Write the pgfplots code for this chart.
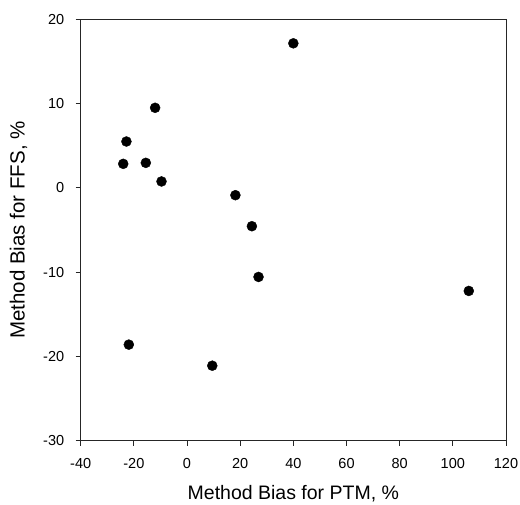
\documentclass[border=0pt]{standalone}
\usepackage{pgfplots}
\pgfplotsset{compat=1.18}
\usepackage{fontspec}
\setmainfont{Liberation Sans}
\begin{document}
\begin{tikzpicture}
\path[use as bounding box] (-80.7pt,-63.3pt) rectangle (439.3pt,440.7pt);
\begin{axis}[
  at={(0,0)}, anchor=south west,
  scale only axis,
  width=425.3pt, height=421.4pt,
  xmin=-40, xmax=120, ymin=-30, ymax=20,
  xtick={-40,-20,...,120}, ytick={-30,-20,...,20},
  tick align=outside,
  xtick pos=bottom, ytick pos=left,
  major tick length=5pt,
  axis line style={line width=0.8pt, black!85},
  tick style={line width=0.8pt, black!85},
  /pgf/number format/assume math mode=true,
  tick label style={font=\fontsize{14.5}{16}\selectfont},
  xticklabel style={yshift=-9pt},
  yticklabel style={xshift=-8pt},
  xlabel style={font=\fontsize{19.5}{22}\selectfont, yshift=-10pt},
  ylabel style={font=\fontsize{20.5}{23}\selectfont, yshift=9pt},
  xlabel={Method Bias for PTM, \%},
  ylabel={Method Bias for FFS, \%},
]
\addplot[only marks, mark=*, mark size=5pt, black] coordinates {
(40.0,17.15) (-12.0,9.5) (-22.8,5.5) (-24.0,2.85) (-15.5,2.97) (-9.6,0.76)
(18.2,-0.87) (24.4,-4.55) (26.9,-10.57) (106.0,-12.23) (-21.9,-18.6) (9.5,-21.1)
};
\end{axis}
\end{tikzpicture}
\end{document}
